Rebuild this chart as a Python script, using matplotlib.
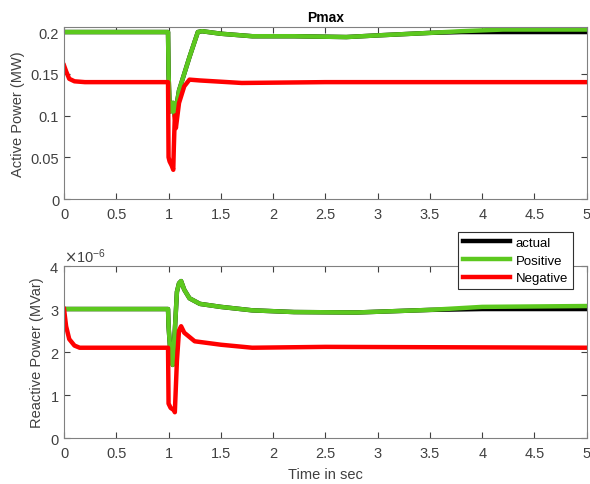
import matplotlib.pyplot as plt
from matplotlib.ticker import ScalarFormatter

# active power (MW)
t_p = [0, 0.995, 1.0, 1.01, 1.02, 1.03, 1.05, 1.06, 1.1, 1.2, 1.28, 1.32, 1.5, 1.8,
       2.2, 2.7, 3.0, 3.5, 3.8, 4.2, 5.0]
p_actual = [0.2, 0.2, 0.15, 0.11, 0.105, 0.115, 0.115, 0.10, 0.13, 0.17, 0.2, 0.201,
            0.198, 0.195, 0.195, 0.194, 0.196, 0.199, 0.200, 0.200, 0.200]
p_positive = [0.2, 0.2, 0.15, 0.11, 0.105, 0.115, 0.115, 0.10, 0.13, 0.17, 0.2, 0.201,
              0.198, 0.195, 0.195, 0.194, 0.196, 0.199, 0.201, 0.203, 0.203]
t_pn = [0, 0.02, 0.05, 0.1, 0.2, 0.995, 1.0, 1.01, 1.03, 1.045, 1.05, 1.06, 1.07, 1.1,
        1.15, 1.2, 1.3, 1.7, 2.5, 5.0]
p_negative = [0.16, 0.153, 0.144, 0.141, 0.140, 0.140, 0.05, 0.045, 0.04, 0.035, 0.06,
              0.10, 0.085, 0.115, 0.135, 0.143, 0.142, 0.139, 0.140, 0.140]

# reactive power (MVar)
t_q = [0, 0.995, 1.0, 1.02, 1.04, 1.06, 1.08, 1.1, 1.12, 1.15, 1.2, 1.3, 1.5, 1.8,
       2.2, 2.8, 3.5, 4.0, 5.0]
q_actual = [3.0, 3.0, 2.6, 1.9, 1.7, 2.5, 3.4, 3.6, 3.65, 3.45, 3.25, 3.12, 3.05, 2.97,
            2.93, 2.92, 2.98, 3.0, 3.0]
q_positive = [3.0, 3.0, 2.6, 1.9, 1.7, 2.5, 3.4, 3.6, 3.65, 3.45, 3.25, 3.12, 3.05, 2.97,
              2.93, 2.92, 2.98, 3.05, 3.07]
t_qn = [0, 0.02, 0.05, 0.1, 0.15, 0.3, 0.995, 1.0, 1.02, 1.05, 1.06, 1.08, 1.1, 1.12,
        1.15, 1.25, 1.5, 1.8, 2.5, 5.0]
q_negative = [3.0, 2.6, 2.3, 2.15, 2.1, 2.1, 2.1, 0.8, 0.7, 0.65, 0.6, 1.8, 2.5, 2.6,
              2.45, 2.25, 2.17, 2.1, 2.12, 2.1]

BLACK = '#000000'
GREEN = '#5cc81e'
RED = '#ff0000'
GRAY = '#404040'

plt.rcParams['font.family'] = ['Liberation Sans', 'DejaVu Sans']
plt.rcParams['font.size'] = 10.5

fig = plt.figure(figsize=(5.9, 4.85), dpi=100)
ax1 = fig.add_axes([0.1085, 0.5876, 0.886, 0.3546])
ax2 = fig.add_axes([0.1085, 0.0948, 0.886, 0.3546])

lw = 3.2
ax1.plot(t_p, p_actual, color=BLACK, lw=lw, label='actual')
ax1.plot(t_p, p_positive, color=GREEN, lw=lw, label='Positive')
ax1.plot(t_pn, p_negative, color=RED, lw=lw, label='Negative')
ax1.set_xlim(0, 5)
ax1.set_ylim(0, 0.206)
ax1.set_yticks([0, 0.05, 0.1, 0.15, 0.2])
ax1.set_yticklabels(['0', '0.05', '0.1', '0.15', '0.2'])
ax1.set_ylabel('Active Power (MW)', color=GRAY)
ax1.set_title('Pmax', fontweight='bold', fontsize=10, pad=4)

scale = 1e-6
ax2.plot(t_q, [v * scale for v in q_actual], color=BLACK, lw=lw, label='actual')
ax2.plot(t_q, [v * scale for v in q_positive], color=GREEN, lw=lw, label='Positive')
ax2.plot(t_qn, [v * scale for v in q_negative], color=RED, lw=lw, label='Negative')
ax2.set_xlim(0, 5)
ax2.set_ylim(0, 4e-6)
ax2.set_yticks([0, 1e-6, 2e-6, 3e-6, 4e-6])
fmt = ScalarFormatter(useMathText=True)
fmt.set_powerlimits((0, 0))
ax2.yaxis.set_major_formatter(fmt)
ax2.yaxis.get_offset_text().set_color(GRAY)
ax2.set_ylabel('Reactive Power (MVar)', color=GRAY)
ax2.set_xlabel('Time in sec', color=GRAY, labelpad=5)

for ax in (ax1, ax2):
    ax.set_xticks([0, 0.5, 1, 1.5, 2, 2.5, 3, 3.5, 4, 4.5, 5])
    ax.set_xticklabels(['0', '0.5', '1', '1.5', '2', '2.5', '3', '3.5', '4', '4.5', '5'])
    ax.tick_params(direction='in', top=True, right=True, colors=GRAY, length=4)
    ax.tick_params(axis='x', pad=6)
    for s in ax.spines.values():
        s.set_color('#808080')

leg = ax2.legend(loc='upper right', bbox_to_anchor=(0.973, 1.198), borderaxespad=0,
                 fancybox=False, framealpha=1, edgecolor='#303030', handlelength=3.6,
                 borderpad=0.35, labelspacing=0.42, handletextpad=0.4, fontsize=9.5)
leg.get_frame().set_linewidth(0.8)

fig.savefig('out.png', dpi=100)
